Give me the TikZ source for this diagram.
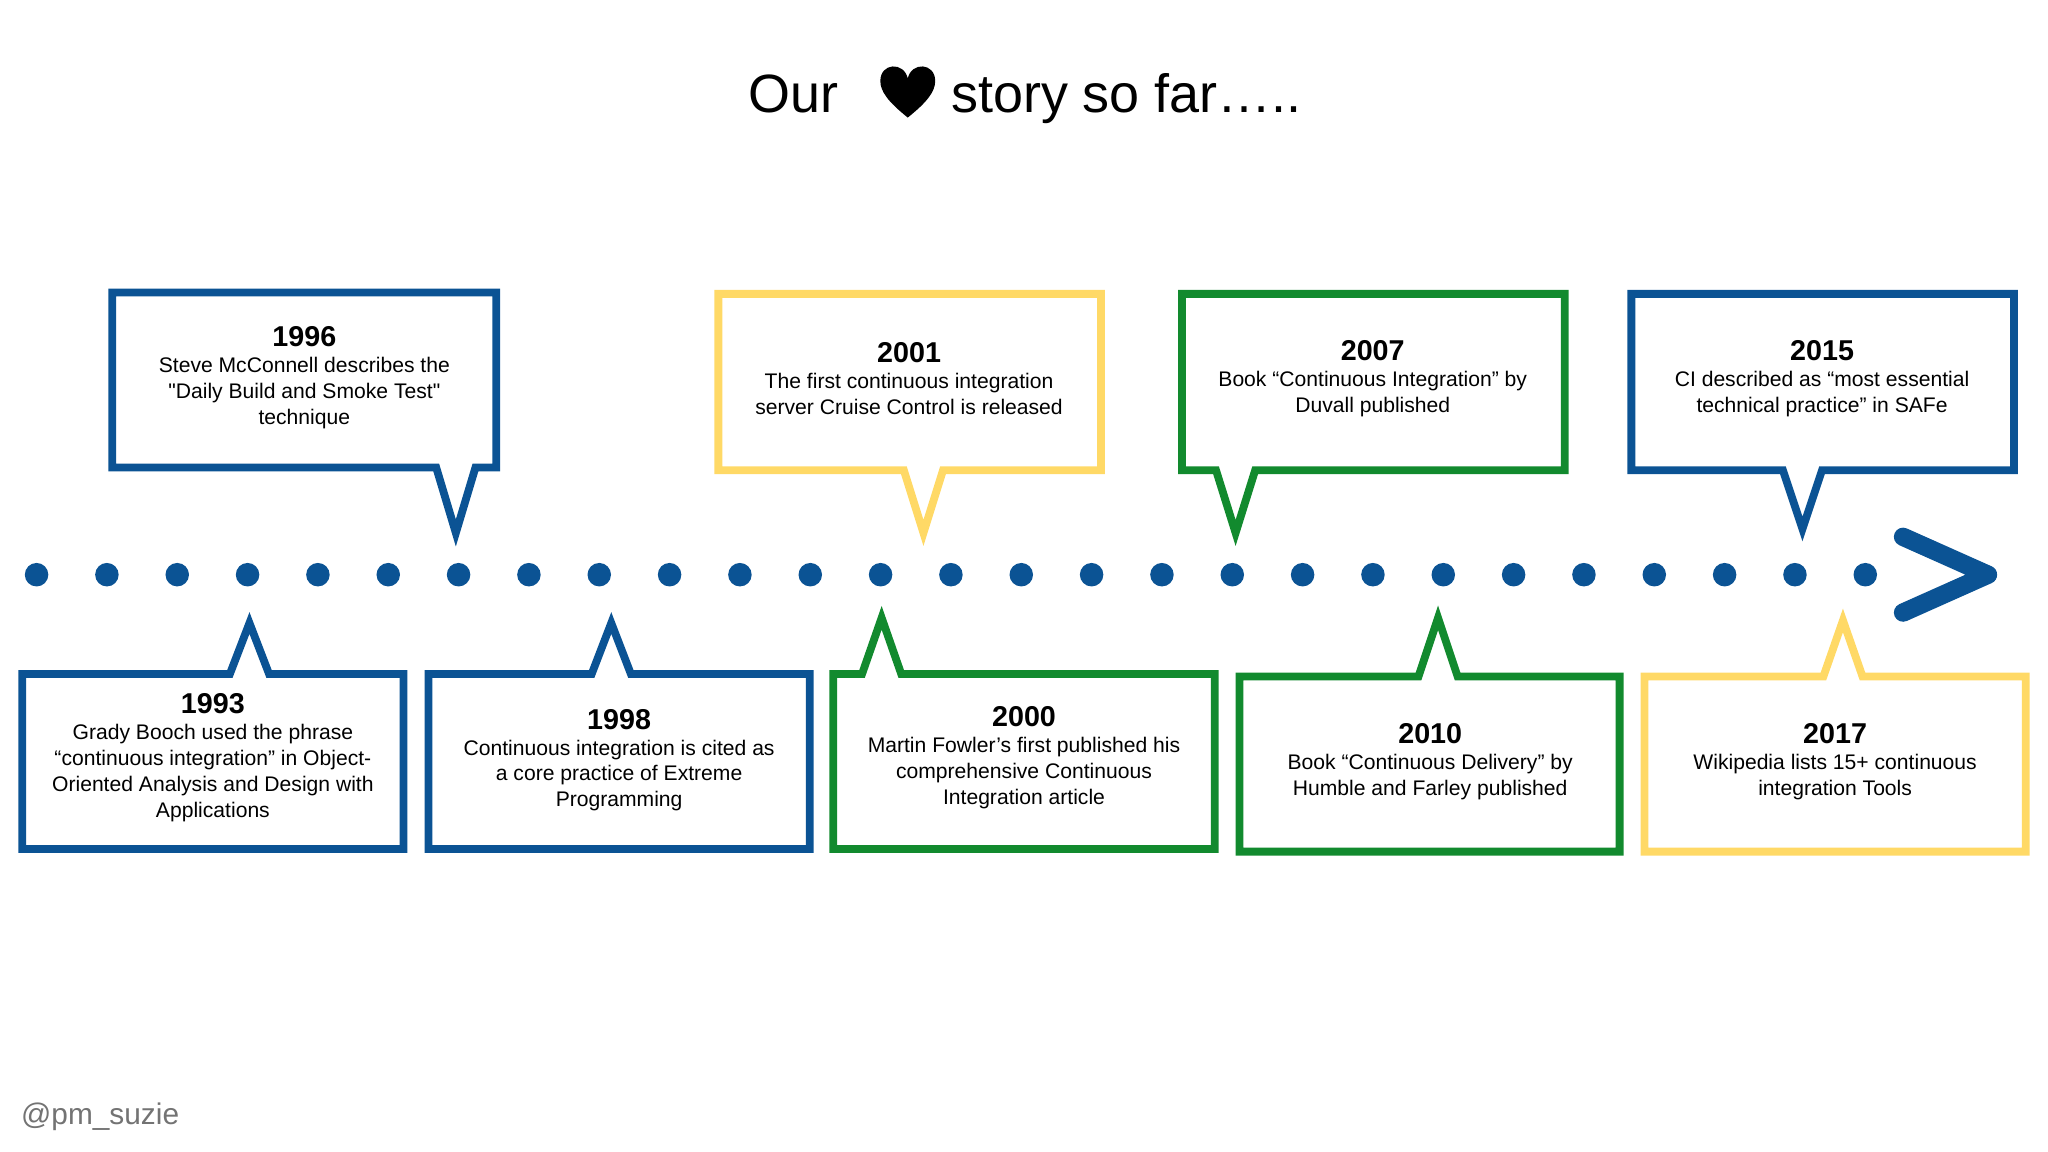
\documentclass[tikz,border=0pt]{standalone}
\usepackage{fontspec}
\setmainfont{Liberation Sans}
\hyphenpenalty=10000
\exhyphenpenalty=10000
\definecolor{tlblue}{RGB}{11,83,148}
\definecolor{tlyellow}{RGB}{255,217,102}
\definecolor{tlgreen}{RGB}{18,138,46}
\tikzset{
  box/.style={line width=3.4pt, line join=miter, fill=white},
  boxtext/.style={align=center, font=\fontsize{9.2}{11.3}\selectfont},
  dot/.style={circle, fill=tlblue, inner sep=0pt, minimum size=0.36cm}
}
\newcommand{\yr}[1]{{\bfseries\fontsize{12.5}{15}\selectfont #1}}
% bubble with pointer below: color, x1, y1, x2, y2, pointer x, pointer tip y
\newcommand{\bubbledown}[7]{
  \draw[box, draw=#1] (#2,#3) -- (#4,#3) -- (#4,#5) -- (#6+15,#5) -- (#6,#7) -- (#6-15,#5) -- (#2,#5) -- cycle;
}
% bubble with pointer above
\newcommand{\bubbleup}[7]{
  \draw[box, draw=#1] (#2,#3) -- (#6-15,#3) -- (#6,#7) -- (#6+15,#3) -- (#4,#3) -- (#4,#5) -- (#2,#5) -- cycle;
}
\begin{document}
\begin{tikzpicture}[x=0.02cm, y=-0.02cm]
    \useasboundingbox (0,0) rectangle (1568,882);

    % Title
    \node[anchor=base east, font=\fontsize{23.5}{26}\selectfont] (our) at (648,86) {Our};
    \fill (695,90) .. controls (680,78) and (674,70) .. (674,62)
        .. controls (674,48) and (692,47) .. (695,60)
        .. controls (698,47) and (716,48) .. (716,62)
        .. controls (716,70) and (710,78) .. (695,90) -- cycle;
    \node[anchor=base west, font=\fontsize{23.5}{26}\selectfont] (story) at (722,86) {story so far…..};

    % Timeline
    \foreach \i in {0,...,26} {
        \node[dot] (d\i) at (28+53.85*\i,440) {};
    }
    \coordinate (tip) at (1522,440);
    \draw[tlblue, line width=8pt, line cap=round, line join=round]
        (1457,411) -- (tip) -- (1457,469);

    % Upper bubbles
    \bubbledown{tlblue}{86}{224}{380}{358}{349}{408}
    \node[boxtext] (b1996) at (233,289) {\yr{1996}\\Steve McConnell describes the\\\textquotedbl Daily Build and Smoke Test\textquotedbl\\technique};
    \bubbledown{tlyellow}{550}{225}{843}{360}{707}{408}
    \node[boxtext] (b2001) at (696,290) {\yr{2001}\\The first continuous integration\\server Cruise Control is released};
    \bubbledown{tlgreen}{905}{225}{1198}{360}{946}{408}
    \node[boxtext] (b2007) at (1051,290) {\yr{2007}\\Book “Continuous Integration” by\\Duvall published};
    \bubbledown{tlblue}{1249}{225}{1542}{360}{1380}{405}
    \node[boxtext] (b2015) at (1395,290) {\yr{2015}\\CI described as “most essential\\technical practice” in SAFe};

    % Lower bubbles
    \bubbleup{tlblue}{17}{516}{309}{650}{191}{477}
    \node[boxtext] (b1993) at (163,580) {\yr{1993}\\Grady Booch used the phrase\\“continuous integration” in Object-\\Oriented Analysis and Design with\\Applications};
    \bubbleup{tlblue}{328}{516}{620}{650}{468}{477}
    \node[boxtext] (b1998) at (474,582) {\yr{1998}\\Continuous integration is cited as\\a core practice of Extreme\\Programming};
    \bubbleup{tlgreen}{638}{516}{930}{650}{675}{473}
    \node[boxtext] (b2000) at (784,580) {\yr{2000}\\Martin Fowler’s first published his\\comprehensive Continuous\\Integration article};
    \bubbleup{tlgreen}{949}{518}{1240}{652}{1101}{473}
    \node[boxtext] (b2010) at (1095,583) {\yr{2010}\\Book “Continuous Delivery” by\\Humble and Farley published};
    \bubbleup{tlyellow}{1259}{518}{1551}{652}{1411}{475}
    \node[boxtext] (b2017) at (1405,583) {\yr{2017}\\Wikipedia lists 15+ continuous\\integration Tools};

    % Credit
    \node[anchor=west, text=black!55, font=\fontsize{13}{15}\selectfont] (credit) at (10,855) {@pm\_suzie};
\end{tikzpicture}
\end{document}
